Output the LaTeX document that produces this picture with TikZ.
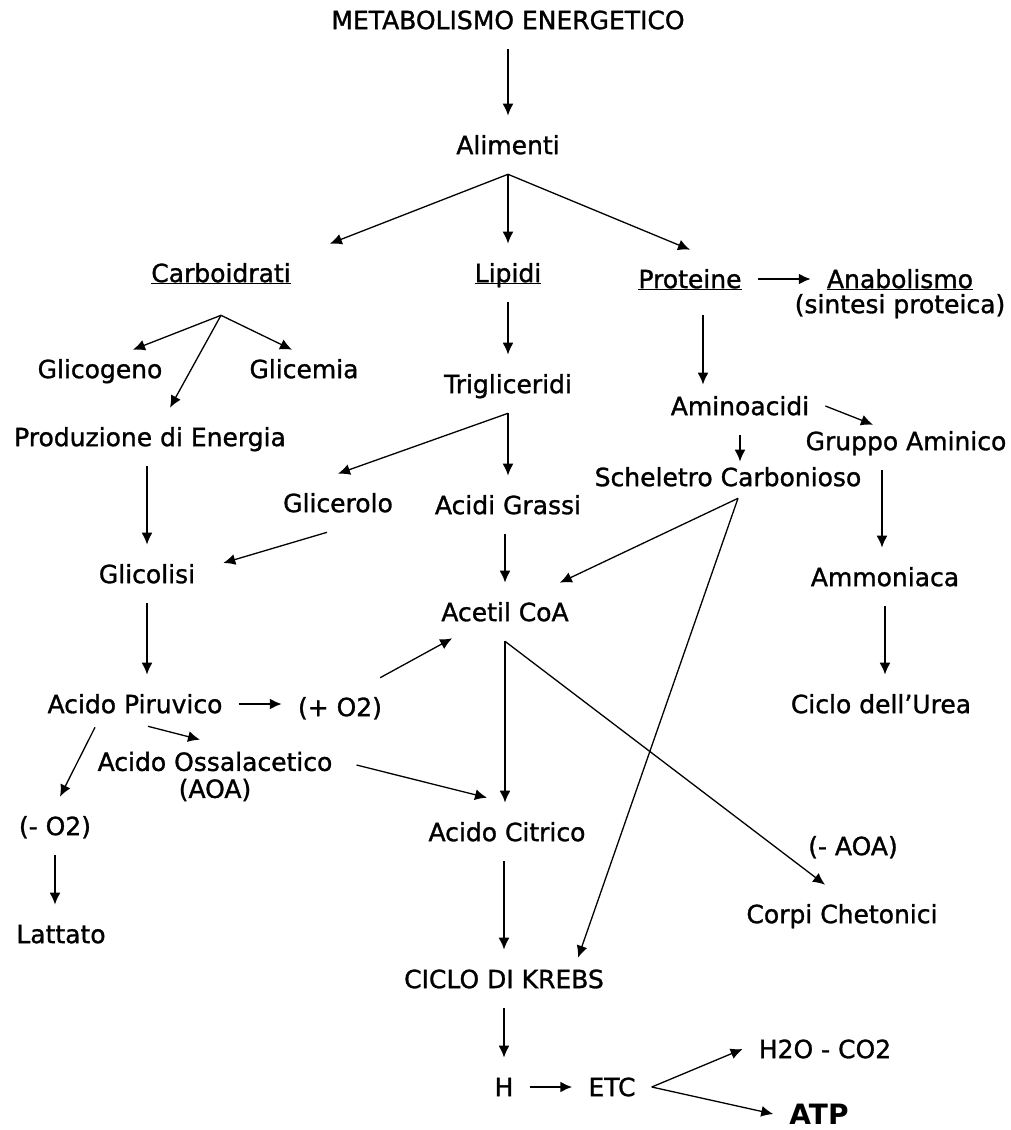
\documentclass[tikz,border=0pt]{standalone}
\usepackage{fontspec}
\setmainfont{DejaVu Sans}[UprightFeatures={FakeBold=1.2}]
\usepackage{tikz}
\usetikzlibrary{positioning,arrows.meta}
\newcommand{\sotto}[1]{\underline{\smash{#1}}}

\begin{document}
\begin{tikzpicture}[x=1pt,y=-1pt,on grid,node distance=100pt,
   voce/.style={font=\fontsize{25}{27}\selectfont,inner xsep=16pt,inner ysep=20pt},
   nodo/.style={voce,text height=18.2pt,text depth=0pt},
   freccia/.style={-{Latex[length=12pt,width=11pt]},line width=2pt},
   diag/.style={line width=1.3pt}]
   \useasboundingbox (0,0) rectangle (1011,1130);
   \node[nodo] (meta) at (508,20) {METABOLISMO ENERGETICO};
   \node[nodo] (alimenti) [below=125pt of meta] {Alimenti};
   \node[nodo] (lipidi) [below=128pt of alimenti] {\sotto{Lipidi}};
   \node[nodo] (carbo) [left=287pt of lipidi] {\sotto{Carboidrati}};
   \node[nodo] (prot) [below right=6pt and 182pt of lipidi] {\sotto{Proteine}};
   \node[nodo] (anab) [right=210pt of prot] {\sotto{Anabolismo}};
   \node[nodo] (anabsub) [below=25pt of anab] {(sintesi proteica)};
   \node[nodo] (glicogeno) [below left=96pt and 121pt of carbo] {Glicogeno};
   \node[nodo] (glicemia) [below right=96pt and 83pt of carbo] {Glicemia};
   \node[nodo] (prod) [below left=164pt and 71pt of carbo] {Produzione di Energia};
   \node[nodo] (trigli) [below=111pt of lipidi] {Trigliceridi};
   \node[nodo] (amino) [below right=127pt and 50pt of prot] {Aminoacidi};
   \node[nodo] (gruppo) [below right=35pt and 166pt of amino] {Gruppo Aminico};
   \node[nodo] (schel) [below left=71pt and 12pt of amino] {Scheletro Carbonioso};
   \node[nodo] (glicerolo) [below left=119pt and 170pt of trigli] {Glicerolo};
   \node[nodo] (acidi) [below=121pt of trigli] {Acidi Grassi};
   \node[nodo] (glicolisi) [below left=137pt and 3pt of prod] {Glicolisi};
   \node[nodo] (acetil) [below left=107pt and 3pt of acidi] {Acetil CoA};
   \node[nodo] (ammon) [below left=136pt and 21pt of gruppo] {Ammoniaca};
   \node[nodo] (piruv) [below left=130pt and 12pt of glicolisi] {Acido Piruvico};
   \node[nodo] (piuO) [below right=3pt and 205pt of piruv] {(+ O2)};
   \node[nodo] (urea) [below left=127pt and 4pt of ammon] {Ciclo dell{\char"27}Urea};
   \node[voce,align=center] (aoa) [below right=72.5pt and 80pt of piruv] {Acido Ossalacetico\\(AOA)};
   \node[nodo] (menoO) [below left=122pt and 80pt of piruv] {(- O2)};
   \node[nodo] (citrico) [below right=220pt and 2pt of acetil] {Acido Citrico};
   \node[nodo] (menoAOA) [below right=14pt and 346pt of citrico] {(- AOA)};
   \node[nodo] (corpi) [below right=82pt and 335pt of citrico] {Corpi Chetonici};
   \node[nodo] (lattato) [below right=108pt and 6pt of menoO] {Lattato};
   \node[nodo] (krebs) [below left=147pt and 3pt of citrico] {CICLO DI KREBS};
   \node[nodo] (h) [below=108pt of krebs] {H};
   \node[nodo] (etc) [right=108pt of h] {ETC};
   \node[nodo] (acqua) [above right=38pt and 213pt of etc] {H2O - CO2};
   \node[nodo,font=\fontsize{28}{30}\selectfont\bfseries,text height=20.4pt] (atp) [below right=27pt and 207pt of etc] {ATP};
    \path[freccia]
    (meta) edge (alimenti)
    (alimenti.south) edge (lipidi.north)
        edge[diag] ([xshift=23pt]carbo.north east)
        edge[diag] (prot.north)
    (prot.east) edge (anab.west)
    ([yshift=-13pt]carbo.south) edge[diag] ([xshift=33pt,yshift=-10pt]glicogeno.north)
        edge[diag] ([xshift=-12pt,yshift=-10pt]glicemia.north)
        edge[diag] ([xshift=20pt]prod.north)
    (lipidi) edge (trigli)
    (trigli.south) edge (acidi.north)
        edge[diag] (glicerolo.north)
    ([xshift=13pt,yshift=-7pt]prot.south) edge ([xshift=-37pt,yshift=-8pt]amino.north)
    (amino.east) edge[diag] ([xshift=-33pt,yshift=-13pt]gruppo.north)
    (amino.south) edge ([xshift=12pt,yshift=-14pt]schel.north)
    ([xshift=-24pt]gruppo.south) edge ([xshift=-3pt]ammon.north)
    (ammon.south) edge (ammon.south |- urea.north)
    (glicolisi.north |- prod.south) edge (glicolisi.north)
    ([xshift=-11pt]glicerolo.south) edge[diag] ([xshift=12pt,yshift=11pt]glicolisi.east)
    (acetil.north |- acidi.south) edge (acetil.north)
    ([xshift=10pt,yshift=8pt]schel.south) edge[diag] ([xshift=-25pt]acetil.north east)
        edge[diag] ([xshift=74pt,yshift=-8pt]krebs.north)
    (glicolisi.south) edge (glicolisi.south |- piruv.north)
    (piruv.east) edge (piruv.east -| piuO.west)
    ([xshift=-18pt]piuO.north east) edge[diag] ([xshift=27pt,yshift=3pt]acetil.south west)
    ([xshift=13pt,yshift=7pt]piruv.south) edge[diag] ([xshift=-15pt,yshift=-8pt]aoa.north)
    ([xshift=-40pt,yshift=6pt]piruv.south) edge[diag] ([xshift=5pt]menoO.north)
    ([xshift=8pt,yshift=11.5pt]aoa.east) edge[diag] ([xshift=-20pt,yshift=5pt]citrico.north)
    (acetil.south) edge (acetil.south |- citrico.north)
        edge[diag] ([xshift=-17pt]corpi.north)
    (menoO.south) edge (menoO.south |- lattato.north)
    (krebs.north |- citrico.south) edge (krebs.north)
    (krebs) edge (h)
    (h.east) edge (h.east -| etc.west)
    (etc.east) edge[diag] (acqua.west)
        edge[diag] (atp.west);
\end{tikzpicture}
\end{document}
